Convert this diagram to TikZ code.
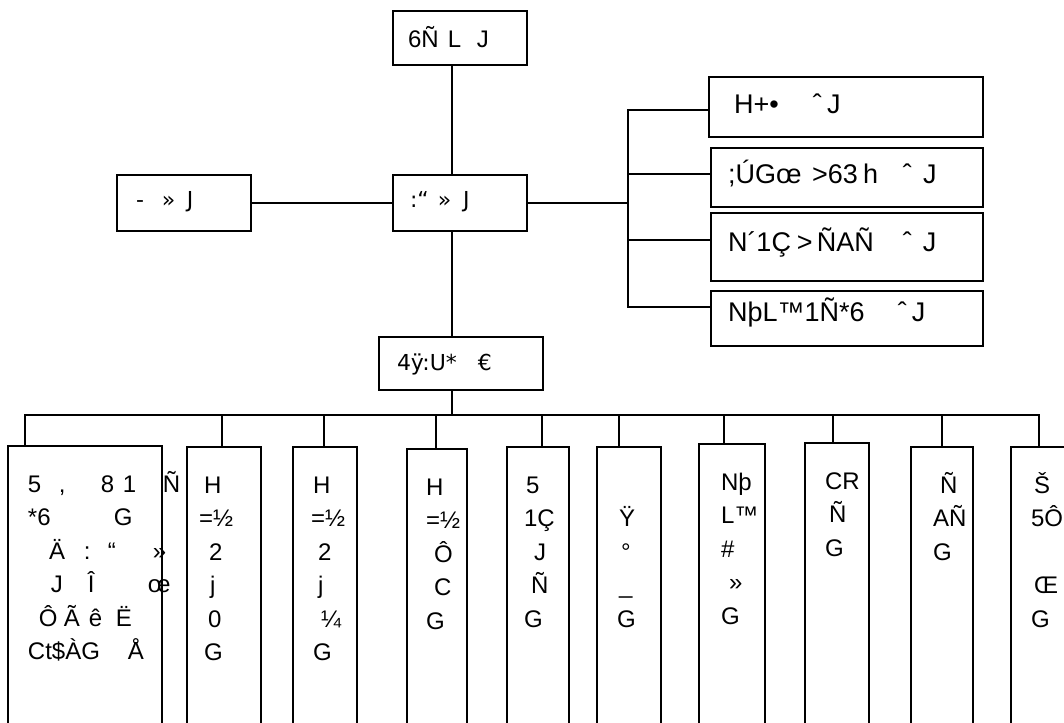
\documentclass[tikz,border=0pt]{standalone}
\usepackage{fontspec}
\setmainfont{Liberation Sans}
\newfontfamily\dejavu{DejaVu Sans}
\usetikzlibrary{calc}

% put a piece of text at an offset from the left edge of its box
\newcommand\mj[2]{\rlap{\hspace*{#1pt}#2}}
% box content: width, height, first baseline, rows
\newcommand\boxtext[4]{\parbox[t][#2pt][t]{#1pt}{\rule{0pt}{#3pt}#4}}

\tikzset{
  box/.style={draw, line width=2pt, inner sep=0pt, anchor=north west},
  wire/.style={line width=2pt, line cap=rect},
  headfont/.style={font=\fontsize{24}{28}\selectfont},
  midfont/.style={font=\dejavu\fontsize{22}{26}\selectfont},
  sidefont/.style={font=\fontsize{27}{32}\selectfont},
  colfont/.style={font=\fontsize{24}{33.5}\selectfont},
}

\begin{document}
\begin{tikzpicture}[x=1pt, y=-1pt]
    \useasboundingbox (0,0) rectangle (1064,722);
    \clip (0,0) rectangle (1064,722);

    % Top row
    \node[box, headfont] (top) at (392,10) {\boxtext{134}{54}{37}{\mj{15}{6Ñ}\mj{55}{L}\mj{84}{J}}};

    % Middle row
    \node[box, midfont] (left) at (116,174) {\boxtext{134}{56}{32}{\mj{19}{-}\mj{45}{»}\mj{70}{J}}};
    \node[box, midfont] (mid) at (392,174) {\boxtext{134}{56}{32}{\mj{17}{:“}\mj{45}{»}\mj{70}{J}}};

    % Right column
    \node[box, sidefont] (r1) at (708,76) {\boxtext{274}{60}{37}{\mj{25}{H+•}\mj{104}{ˆ}\mj{118}{J}}};
    \node[box, sidefont] (r2) at (710,147) {\boxtext{272}{59}{35}{\mj{17}{;ÚGœ}\mj{101}{>63}\mj{152}{h}\mj{192}{ˆ}\mj{212}{J}}};
    \node[box, sidefont] (r3) at (710,212) {\boxtext{272}{68}{38}{\mj{17}{N´1Ç}\mj{86}{>}\mj{106}{ÑAÑ}\mj{192}{ˆ}\mj{212}{J}}};
    \node[box, sidefont] (r4) at (710,290) {\boxtext{272}{55}{30}{\mj{17}{NþL™1Ñ*6}\mj{187}{ˆ}\mj{201}{J}}};

    % Lower head
    \node[box, midfont] (dept) at (378,336) {\boxtext{164}{53}{33}{\mj{18}{4ÿ:U*}\mj{99}{€}}};

    % Bottom columns
    \node[box, colfont] (b1) at (7,445) {\boxtext{154}{320}{46}{%
        \mj{20}{5}\mj{51}{,}\mj{93}{8}\mj{115}{1}\mj{155}{Ñ}\\
        \mj{20}{*6}\mj{106}{G}\\
        \mj{41}{Ä}\mj{76}{:}\mj{100}{“}\mj{145}{»}\\
        \mj{43}{J}\mj{80}{Î}\mj{140}{œ}\\
        \mj{31}{Ô}\mj{56}{Ã}\mj{81}{ê}\mj{108}{Ë}\\
        \mj{20}{Ct\$ÀG}\mj{120}{Å}}};
    \node[box, colfont] (b2) at (186,446) {\boxtext{74}{320}{46}{%
        \mj{17}{H}\\ \mj{12}{=½}\\ \mj{22}{2}\\ \mj{23}{j}\\ \mj{21}{0}\\ \mj{17}{G}}};
    \node[box, colfont] (b3) at (292,446) {\boxtext{64}{320}{46}{%
        \mj{20}{H}\\ \mj{18}{=½}\\ \mj{25}{2}\\ \mj{25}{j}\\ \mj{28}{¼}\\ \mj{20}{G}}};
    \node[box, colfont] (b4) at (406,448) {\boxtext{60}{320}{46}{%
        \mj{19}{H}\\ \mj{19}{=½}\\ \mj{27}{Ô}\\ \mj{27}{C}\\ \mj{19}{G}}};
    \node[box, colfont] (b5) at (506,446) {\boxtext{62}{320}{46}{%
        \mj{19}{5}\\ \mj{17}{1Ç}\\ \mj{27}{J}\\ \mj{24}{Ñ}\\ \mj{17}{G}}};
    \node[box, colfont] (b6) at (596,446) {\boxtext{64}{320}{46}{%
        \mbox{}\\ \mj{22}{Ÿ}\\ \mj{24}{°}\\ \mj{22}{\_}\\ \mj{20}{G}}};
    \node[box, colfont] (b7) at (698,443) {\boxtext{66}{320}{46}{%
        \mj{22}{Nþ}\\ \mj{22}{L™}\\ \mj{22}{\#}\\ \mj{30}{»}\\ \mj{22}{G}}};
    \node[box, colfont] (b8) at (804,442) {\boxtext{64}{320}{46}{%
        \mj{20}{CR}\\ \mj{24}{Ñ}\\ \mj{20}{G}}};
    \node[box, colfont] (b9) at (910,446) {\boxtext{62}{320}{46}{%
        \mj{29}{Ñ}\\ \mj{22}{AÑ}\\ \mj{22}{G}}};
    \node[box, colfont] (b10) at (1010,446) {\boxtext{80}{320}{46}{%
        \mj{23}{Š}\\ \mj{20}{5Ô}\\ \mbox{}\\ \mj{23}{Œ}\\ \mj{20}{G}}};

    % Spine and taps
    \coordinate (spine) at (452,0);
    \coordinate (t1) at (628,110);
    \coordinate (t2) at (628,174);
    \coordinate (t3) at (628,240);
    \coordinate (t4) at (628,307);
    \foreach \x [count=\i] in {25,222,324,436,542,619,724,833,942,1039}
        \coordinate (k\i) at (\x,415);

    % Connectors
    \draw[wire] (top.south -| spine) -- (mid.north -| spine);
    \draw[wire] (mid.south -| spine) -- (dept.north -| spine);
    \draw[wire] (dept.south -| spine) -- (spine |- k1);
    \draw[wire] (left.east) -- (mid.west);
    \draw[wire] (mid.east) -- (mid.east -| t1);
    \draw[wire] (t1) -- (t4);
    \foreach \i in {1,...,4}
        \draw[wire] (t\i) -- (t\i -| r\i.west);
    \draw[wire] (k1) -- (k10);
    \foreach \i in {1,...,10}
        \draw[wire] (k\i) -- (k\i |- b\i.north);
\end{tikzpicture}
\end{document}
